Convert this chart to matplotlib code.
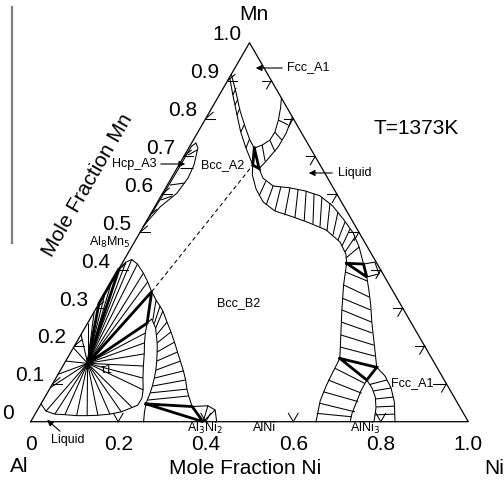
import numpy as np
import matplotlib
matplotlib.use('Agg')
import matplotlib.pyplot as plt
from matplotlib.collections import LineCollection

# compositions are (x_Ni, x_Mn), Al is the balance
tau1 = (0.053, 0.154)
al8mn5 = (0.0, 0.405)
al3ni2 = (0.394, 0.0)

liquid_curve = [(0.0, 0.047), (0.021, 0.028), (0.045, 0.020), (0.069, 0.0185), (0.097, 0.016),
                (0.121, 0.016), (0.145, 0.017), (0.171, 0.020), (0.194, 0.026), (0.213, 0.0375),
                (0.223, 0.044), (0.223, 0.0625), (0.215, 0.084), (0.199, 0.115), (0.184, 0.147),
                (0.170, 0.179), (0.156, 0.208), (0.145, 0.234), (0.136, 0.260), (0.141, 0.271),
                (0.162, 0.247), (0.185, 0.208), (0.197, 0.184), (0.208, 0.160), (0.218, 0.136),
                (0.225, 0.115), (0.231, 0.094), (0.235, 0.076), (0.238, 0.057), (0.240, 0.047),
                (0.247, 0.026), (0.258, 0.0)]

b2_curve = [(0.0, 0.405), (0.007, 0.421), (0.017, 0.428), (0.036, 0.416), (0.0615, 0.392),
            (0.083, 0.369), (0.105, 0.343), (0.126, 0.321), (0.143, 0.305), (0.156, 0.292),
            (0.180, 0.263), (0.202, 0.237), (0.2235, 0.210), (0.2435, 0.184), (0.262, 0.160),
            (0.282, 0.134), (0.299, 0.110), (0.314, 0.086), (0.327, 0.068), (0.349, 0.040)]

al3ni2_curve = [(0.349, 0.040), (0.384, 0.042), (0.406, 0.031), (0.425, 0.0)]

fan_ends = [(0.0, 0.09), (0.0, 0.125), (0.0, 0.16), (0.0, 0.195), (0.0, 0.23), (0.0, 0.26),
            (0.0, 0.29), (0.0, 0.34), (0.0, 0.37),
            (0.021, 0.028), (0.045, 0.020), (0.069, 0.0185), (0.097, 0.016), (0.121, 0.016),
            (0.145, 0.017), (0.171, 0.020), (0.194, 0.026), (0.213, 0.0375),
            (0.215, 0.084), (0.199, 0.115), (0.184, 0.147), (0.170, 0.179), (0.156, 0.208),
            (0.145, 0.234),
            (0.007, 0.421), (0.017, 0.428), (0.036, 0.416), (0.0615, 0.392), (0.083, 0.369)]

b2_ties = [((0.145, 0.268), (0.126, 0.321)), ((0.153, 0.259), (0.143, 0.305)),
           ((0.162, 0.247), (0.156, 0.292)), ((0.173, 0.229), (0.180, 0.263)),
           ((0.185, 0.208), (0.202, 0.237)), ((0.197, 0.184), (0.2235, 0.210)),
           ((0.208, 0.160), (0.2435, 0.184)), ((0.218, 0.136), (0.262, 0.160)),
           ((0.225, 0.115), (0.282, 0.134)), ((0.231, 0.094), (0.299, 0.110)),
           ((0.235, 0.076), (0.314, 0.086)), ((0.238, 0.057), (0.327, 0.068)),
           (al3ni2, (0.384, 0.042)), (al3ni2, (0.406, 0.031))]

hcp_left = [(0.0, 0.5145), (0.003, 0.585), (0.004, 0.659), (0.004, 0.727), (0.010, 0.735)]
hcp_right = [(0.010, 0.735), (0.021, 0.722), (0.0345, 0.677), (0.038, 0.643), (0.0326, 0.603),
             (0.0122, 0.5665), (0.0023, 0.527), (0.0, 0.5145)]
hcp_ties = [((0.008, 0.704), (0.022, 0.717)), ((0.0065, 0.669), (0.036, 0.669)),
            ((0.006, 0.6245), (0.038, 0.630)), ((0.005, 0.585), (0.025, 0.5955)),
            ((0.0, 0.545), (0.008, 0.561))]

a2_left = [(0.0, 0.909), (0.031, 0.862), (0.067, 0.809), (0.098, 0.764), (0.131, 0.722),
           (0.153, 0.696), (0.169, 0.677)]
a2_right = [(0.0, 0.917), (0.034, 0.870), (0.067, 0.822), (0.101, 0.778), (0.1295, 0.743),
            (0.150, 0.722)]
a2_ties = [((0.031, 0.862), (0.029, 0.8805)), ((0.049, 0.8356), (0.048, 0.8515)),
           ((0.067, 0.809), (0.064, 0.828)), ((0.098, 0.764), (0.096, 0.7855)),
           ((0.131, 0.722), (0.127, 0.746))]
a2_tri = [(0.150, 0.722), (0.169, 0.677), (0.188, 0.668)]

fcc_top_inner = [(0.150, 0.722), (0.164, 0.730), (0.175, 0.743), (0.176, 0.764), (0.168, 0.796),
                 (0.157, 0.828), (0.146, 0.854)]
fcc_top_outer = [(0.188, 0.668), (0.195, 0.6905), (0.203, 0.725), (0.203, 0.762), (0.196, 0.804)]
fcc_top_ties = [((0.164, 0.730), (0.1915, 0.688)), ((0.175, 0.743), (0.2025, 0.712)),
                ((0.176, 0.764), (0.2026, 0.743)), ((0.168, 0.796), (0.1966, 0.783))]

s_upper = [(0.188, 0.668), (0.209, 0.643), (0.243, 0.622), (0.284, 0.617), (0.3225, 0.609),
           (0.363, 0.596), (0.406, 0.569), (0.450, 0.532), (0.488, 0.498), (0.520, 0.461),
           (0.541, 0.432), (0.5525, 0.416)]
s_lower = [(0.169, 0.677), (0.181, 0.651), (0.208, 0.614), (0.241, 0.580), (0.280, 0.556),
           (0.321, 0.543), (0.368, 0.527), (0.422, 0.506), (0.470, 0.474), (0.499, 0.4425),
           (0.513, 0.418)]
s_ties = [((0.220, 0.635), (0.224, 0.5955)), ((0.243, 0.622), (0.252, 0.572)),
          ((0.262, 0.619), (0.280, 0.556)), ((0.284, 0.617), (0.308, 0.545)),
          ((0.3045, 0.613), (0.335, 0.5375)), ((0.325, 0.609), (0.360, 0.530)),
          ((0.347, 0.601), (0.384, 0.522)), ((0.369, 0.593), (0.404, 0.514)),
          ((0.3955, 0.577), (0.4255, 0.503)), ((0.4256, 0.553), (0.4445, 0.4926)),
          ((0.4548, 0.527), (0.4625, 0.4794)), ((0.4755, 0.508), (0.4796, 0.4636)),
          ((0.4975, 0.487), (0.4943, 0.4478)), ((0.520, 0.461), (0.5045, 0.432))]

tri_upper = [(0.513, 0.418), (0.5525, 0.416), (0.577, 0.382)]
small_box = [(0.5525, 0.416), (0.576, 0.421), (0.601, 0.390), (0.577, 0.382)]

vb_left = [(0.513, 0.418), (0.5345, 0.361), (0.5636, 0.295), (0.5942, 0.229), (0.623, 0.167)]
vb_right = [(0.577, 0.382), (0.599, 0.3475), (0.623, 0.308), (0.648, 0.263), (0.673, 0.221),
            (0.695, 0.184), (0.719, 0.1435)]
vb_ties = [((0.522, 0.395), (0.584, 0.371)), ((0.5345, 0.361), (0.609, 0.329)),
           ((0.549, 0.326), (0.629, 0.295)), ((0.5636, 0.295), (0.647, 0.263)),
           ((0.578, 0.263), (0.664, 0.234)), ((0.5942, 0.229), (0.683, 0.202)),
           ((0.609, 0.197), (0.700, 0.173))]
tri_lower = [(0.623, 0.167), (0.719, 0.1435), (0.713, 0.110)]

alni_left = [(0.623, 0.167), (0.625, 0.131), (0.628, 0.094), (0.634, 0.055), (0.652, 0.0)]
alni_right = [(0.713, 0.110), (0.714, 0.081), (0.719, 0.049), (0.723, 0.023), (0.730, 0.0)]
alni_ties = [((0.625, 0.141), (0.713, 0.101)), ((0.625, 0.110), (0.719, 0.075)),
             ((0.629, 0.079), (0.722, 0.053)), ((0.637, 0.0485), (0.728, 0.026)),
             ((0.6425, 0.022), (0.727, 0.013))]

alni3_inner = [(0.713, 0.110), (0.7355, 0.089), (0.755, 0.065), (0.771, 0.036), (0.7845, 0.0)]
alni3_outer = [(0.719, 0.1435), (0.749, 0.121), (0.779, 0.089), (0.805, 0.052), (0.8325, 0.0)]
alni3_ties = [((0.725, 0.098), (0.759, 0.110)), ((0.742, 0.081), (0.779, 0.089)),
              ((0.758, 0.060), (0.7965, 0.065)), ((0.770, 0.039), (0.811, 0.041)),
              ((0.778, 0.018), (0.822, 0.020))]

dashed = [(0.105, 0.343), (0.169, 0.677)]

mn_ticks = [0.1, 0.2, 0.3, 0.4, 0.5, 0.6, 0.7, 0.8, 0.9]
ni_ticks = [0.2, 0.4, 0.6, 0.8]
mn_labels = [0, 0.1, 0.2, 0.3, 0.4, 0.5, 0.6, 0.7, 0.8, 0.9, 1.0]
ni_labels = [0, 0.2, 0.4, 0.6, 0.8, 1.0]

S3 = np.sqrt(3) / 2


def tern(pts):
    pts = np.asarray(pts, dtype=float)
    return pts[..., 0] + pts[..., 1] / 2, pts[..., 1] * S3


def pix(px, py):
    # picture pixel -> axes data (triangle base = 1)
    return (px - 30.7) / 437.6, (421.7 - py) / 437.6


plt.rcParams['font.family'] = ['Liberation Sans', 'DejaVu Sans']
fig = plt.figure(figsize=(5.04, 4.88), dpi=100)
ax = fig.add_axes([0, 0, 1, 1])
x0, y0 = pix(0, 488)
x1, y1 = pix(504, 0)
ax.set_xlim(x0, x1)
ax.set_ylim(y0, y1)
ax.axis('off')

thin = 0.75
bold = 2.0

# triangle
ax.plot(*tern([(0, 0), (1, 0), (0, 1), (0, 0)]), color='k', lw=0.9)

for c in [liquid_curve, b2_curve, al3ni2_curve, hcp_left, hcp_right, a2_left, a2_right,
          fcc_top_inner, fcc_top_outer, s_upper, s_lower, small_box + [small_box[0]],
          vb_left, vb_right, alni_left, alni_right, alni3_inner, alni3_outer]:
    ax.plot(*tern(c), color='k', lw=thin)

segs = []
for e in fan_ends:
    segs.append(np.column_stack(tern([tau1, e])))
for ties in [b2_ties, hcp_ties, a2_ties, fcc_top_ties, s_ties, vb_ties, alni_ties, alni3_ties]:
    for a, b in ties:
        segs.append(np.column_stack(tern([a, b])))
ax.add_collection(LineCollection(segs, colors='k', linewidths=thin))

# three-phase triangles
for tri in [[tau1, (0.0, 0.312), al8mn5], [tau1, (0.105, 0.343), (0.136, 0.260)],
            [(0.240, 0.047), (0.349, 0.040), al3ni2], a2_tri, tri_upper, tri_lower]:
    ax.plot(*tern(tri + [tri[0]]), color='k', lw=bold, solid_joinstyle='miter')

ax.plot(*tern(dashed), color='k', lw=thin, ls=(0, (4, 3)))

# chevron ticks
L = 0.022
for m in mn_ticks:
    x, y = tern((0.0, m))
    for ang in (0, 40):
        a = np.radians(ang)
        ax.plot([x, x + L * np.cos(a)], [y, y + L * np.sin(a)], color='k', lw=thin)
    x, y = tern((1 - m, m))
    for ang in (180, 240):
        a = np.radians(ang)
        ax.plot([x, x + L * np.cos(a)], [y, y + L * np.sin(a)], color='k', lw=thin)
for n in ni_ticks:
    x, y = tern((n, 0.0))
    for ang in (60, 120):
        a = np.radians(ang)
        ax.plot([x, x + L * np.cos(a)], [y, y + L * np.sin(a)], color='k', lw=thin)

# tick labels
big = 15
for m in mn_labels:
    x, y = tern((0.0, m))
    ax.text(x - 23 / 437.6, y + 8 / 437.6, '0' if m == 0 else '%.1f' % m,
            fontsize=big, ha='center', va='center')
for n in ni_labels:
    x, y = tern((n, 0.0))
    ax.text(x, y - 23 / 437.6, '0' if n == 0 else '%.1f' % n,
            fontsize=big, ha='center', va='center')

ax.text(*pix(254, 15), 'Mn', fontsize=big, ha='center', va='center')
ax.text(*pix(19, 466), 'Al', fontsize=big, ha='center', va='center')
ax.text(*pix(494, 469), 'Ni', fontsize=big, ha='center', va='center')
ax.text(*pix(245, 468), 'Mole Fraction Ni', fontsize=big, ha='center', va='center')
ax.text(*pix(88, 185), 'Mole Fraction Mn', fontsize=big, ha='center', va='center',
        rotation=60, rotation_mode='anchor')
ax.text(*pix(416, 129), 'T=1373K', fontsize=big, ha='center', va='center')

small = 9
ax.text(*pix(308, 67), 'Fcc_A1', fontsize=small, ha='center', va='center')
ax.annotate('', xy=pix(253, 68), xytext=pix(285, 68),
            arrowprops=dict(arrowstyle='-|>', color='k', lw=0.8, mutation_scale=9))
ax.text(*pix(355, 173), 'Liquid', fontsize=small, ha='center', va='center')
ax.annotate('', xy=pix(306, 173), xytext=pix(335, 173),
            arrowprops=dict(arrowstyle='-|>', color='k', lw=0.8, mutation_scale=9))
ax.text(*pix(134, 164), 'Hcp_A3', fontsize=small, ha='center', va='center')
ax.annotate('', xy=pix(188, 164), xytext=pix(158, 164),
            arrowprops=dict(arrowstyle='-|>', color='k', lw=0.8, mutation_scale=9))
ax.text(*pix(223, 165), 'Bcc_A2', fontsize=small, ha='center', va='center')
ax.text(*pix(239, 303), 'Bcc_B2', fontsize=small, ha='center', va='center')
ax.text(*pix(107, 370), 'τ1', fontsize=small, ha='center', va='center')
ax.text(*pix(110, 242), 'Al$_8$Mn$_5$', fontsize=small, ha='center', va='center')
ax.text(*pix(68, 440), 'Liquid', fontsize=small, ha='center', va='center')
ax.annotate('', xy=pix(45, 418), xytext=pix(62, 433),
            arrowprops=dict(arrowstyle='-|>', color='k', lw=0.8, mutation_scale=9))
ax.text(*pix(205, 428), 'Al$_3$Ni$_2$', fontsize=small, ha='center', va='center')
ax.text(*pix(265, 428), 'AlNi', fontsize=small, ha='center', va='center')
ax.text(*pix(365, 428), 'AlNi$_3$', fontsize=small, ha='center', va='center')
ax.text(*pix(412, 383), 'Fcc_A1', fontsize=small, ha='center', va='center')
ax.plot(*zip(pix(433, 384), pix(446, 384)), color='k', lw=thin)

# grey bar at the left
ax.plot(*zip(pix(12, 7), pix(12, 243)), color='#808080', lw=1.6)

fig.savefig('out.png', dpi=100)
